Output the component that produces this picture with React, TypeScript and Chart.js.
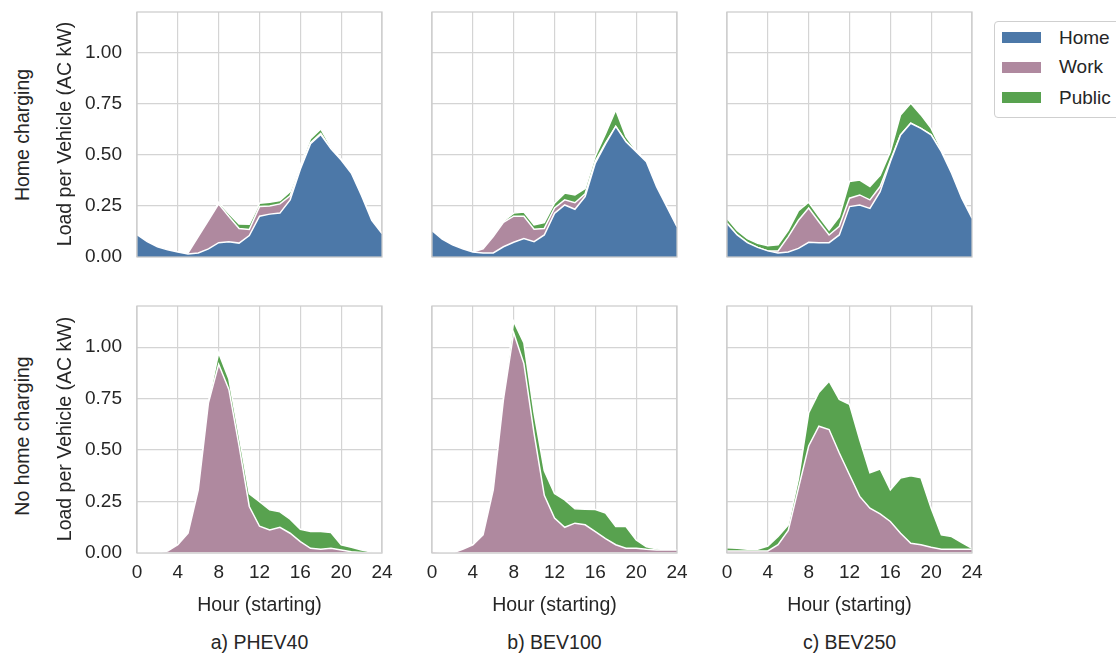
import React, { useEffect, useRef } from "react";
import { Chart, registerables } from "chart.js";

Chart.register(...registerables);

// ---------- data ----------
const HOURS = [0, 1, 2, 3, 4, 5, 6, 7, 8, 9, 10, 11, 12, 13, 14, 15, 16, 17, 18, 19, 20, 21, 22, 23, 24];
const X_TICKS = [0, 4, 8, 12, 16, 20, 24];
const Y_TICKS = [0, 0.25, 0.5, 0.75, 1.0];
const SERIES_NAMES = ["Home", "Work", "Public"];
const ROW_LABELS = ["Home charging", "No home charging"];
const COL_LABELS = ["a) PHEV40", "b) BEV100", "c) BEV250"];
const Y_TITLE = "Load per Vehicle (AC kW)";
const X_TITLE = "Hour (starting)";

// Home charging row
const PHEV40_HOME_home = [0.11, 0.075, 0.05, 0.035, 0.025, 0.015, 0.02, 0.04, 0.07, 0.075, 0.068, 0.105, 0.2, 0.21, 0.215, 0.28, 0.43, 0.555, 0.6, 0.53, 0.475, 0.41, 0.3, 0.18, 0.115];
const PHEV40_HOME_work = [0, 0, 0, 0, 0, 0.005, 0.08, 0.14, 0.19, 0.123, 0.072, 0.03, 0.047, 0.04, 0.045, 0.02, 0.01, 0.005, 0.005, 0, 0, 0, 0, 0, 0];
const PHEV40_HOME_public = [0, 0, 0, 0, 0, 0, 0, 0, 0.008, 0.015, 0.022, 0.025, 0.016, 0.018, 0.016, 0.02, 0.01, 0.02, 0.022, 0.01, 0.005, 0, 0, 0, 0];

const BEV100_HOME_home = [0.13, 0.087, 0.06, 0.04, 0.025, 0.02, 0.02, 0.05, 0.072, 0.09, 0.075, 0.108, 0.214, 0.255, 0.234, 0.296, 0.46, 0.554, 0.64, 0.565, 0.516, 0.467, 0.345, 0.247, 0.149];
const BEV100_HOME_work = [0, 0, 0, 0, 0, 0.02, 0.08, 0.12, 0.128, 0.11, 0.061, 0.032, 0.026, 0.025, 0.032, 0.014, 0.01, 0.005, 0, 0, 0, 0, 0, 0, 0];
const BEV100_HOME_public = [0, 0, 0, 0, 0, 0, 0, 0.005, 0.015, 0.02, 0.021, 0.028, 0.024, 0.033, 0.038, 0.025, 0.025, 0.045, 0.08, 0.025, 0.005, 0, 0, 0, 0];

const BEV250_HOME_home = [0.165, 0.108, 0.07, 0.047, 0.03, 0.02, 0.025, 0.042, 0.072, 0.07, 0.07, 0.108, 0.247, 0.255, 0.238, 0.32, 0.467, 0.598, 0.655, 0.63, 0.598, 0.516, 0.41, 0.288, 0.19];
const BEV250_HOME_work = [0, 0, 0, 0, 0, 0.01, 0.075, 0.138, 0.168, 0.103, 0.038, 0.042, 0.041, 0.049, 0.042, 0.025, 0.005, 0, 0, 0, 0, 0, 0, 0, 0];
const BEV250_HOME_public = [0.025, 0.022, 0.02, 0.02, 0.025, 0.03, 0.03, 0.047, 0.028, 0.025, 0.024, 0.048, 0.082, 0.073, 0.065, 0.055, 0.044, 0.098, 0.098, 0.066, 0.032, 0.01, 0.005, 0.003, 0];

// No home charging row
const PHEV40_NOHOME_home = [0, 0, 0, 0, 0, 0, 0, 0, 0, 0, 0, 0, 0, 0, 0, 0, 0, 0, 0, 0, 0, 0, 0, 0, 0];
const PHEV40_NOHOME_work = [0, 0, 0, 0.01, 0.04, 0.096, 0.307, 0.73, 0.917, 0.795, 0.52, 0.226, 0.13, 0.112, 0.125, 0.096, 0.055, 0.023, 0.018, 0.023, 0.015, 0.006, 0.003, 0, 0];
const PHEV40_NOHOME_public = [0, 0, 0, 0, 0, 0, 0, 0.005, 0.055, 0.05, 0.05, 0.062, 0.12, 0.098, 0.075, 0.068, 0.06, 0.081, 0.086, 0.077, 0.025, 0.022, 0.012, 0.005, 0];

const BEV100_NOHOME_home = [0, 0, 0, 0, 0, 0, 0, 0, 0, 0, 0, 0, 0, 0, 0, 0, 0, 0, 0, 0, 0, 0, 0, 0, 0];
const BEV100_NOHOME_work = [0.01, 0.002, 0, 0.018, 0.04, 0.088, 0.307, 0.746, 1.07, 0.92, 0.58, 0.28, 0.17, 0.125, 0.145, 0.137, 0.104, 0.07, 0.04, 0.023, 0.023, 0.018, 0.015, 0.015, 0.015];
const BEV100_NOHOME_public = [0, 0, 0, 0, 0, 0, 0, 0.005, 0.055, 0.1, 0.1, 0.12, 0.119, 0.133, 0.07, 0.076, 0.107, 0.124, 0.089, 0.106, 0.04, 0.012, 0.006, 0, 0];

const BEV250_NOHOME_home = [0, 0, 0, 0, 0, 0, 0, 0, 0, 0, 0, 0, 0, 0, 0, 0, 0, 0, 0, 0, 0, 0, 0, 0, 0];
const BEV250_NOHOME_work = [0.01, 0.01, 0.01, 0.01, 0.01, 0.04, 0.11, 0.315, 0.52, 0.616, 0.6, 0.486, 0.38, 0.275, 0.218, 0.19, 0.153, 0.096, 0.047, 0.04, 0.028, 0.018, 0.018, 0.018, 0.018];
const BEV250_NOHOME_public = [0.016, 0.013, 0.008, 0.008, 0.024, 0.04, 0.027, 0.045, 0.16, 0.164, 0.235, 0.26, 0.342, 0.275, 0.172, 0.218, 0.154, 0.268, 0.328, 0.326, 0.19, 0.07, 0.062, 0.032, 0.005];

const COLORS = ["#4c78a8", "#af899f", "#58a24f"];
const TEXT = "#262626";
const GRID = "#d4d4d4";
const FONT = '"Liberation Sans", Arial, Helvetica, sans-serif';
const TICK_SIZE = 19;
const TITLE_SIZE = 19.5;

const PANELS = [
  { row: 0, col: 0, series: [PHEV40_HOME_home, PHEV40_HOME_work, PHEV40_HOME_public] },
  { row: 0, col: 1, series: [BEV100_HOME_home, BEV100_HOME_work, BEV100_HOME_public] },
  { row: 0, col: 2, series: [BEV250_HOME_home, BEV250_HOME_work, BEV250_HOME_public] },
  { row: 1, col: 0, series: [PHEV40_NOHOME_home, PHEV40_NOHOME_work, PHEV40_NOHOME_public] },
  { row: 1, col: 1, series: [BEV100_NOHOME_home, BEV100_NOHOME_work, BEV100_NOHOME_public] },
  { row: 1, col: 2, series: [BEV250_NOHOME_home, BEV250_NOHOME_work, BEV250_NOHOME_public] },
];

// ---------- layout ----------
const COL_LEFT = [137, 432, 727];
const AREA_W = 245;
const ROW_TOP = [12, 306];
const AREA_H = [245, 247];
const Y_AXIS_W = 70;
const X_AXIS_H = 45;
const PAD_TOP = 10;
const PAD_RIGHT = 14;

const framePlugin = {
  id: "frame",
  afterDatasetsDraw(chart: any) {
    const { ctx, chartArea } = chart;
    ctx.save();
    ctx.strokeStyle = "#cccccc";
    ctx.lineWidth = 1.25;
    ctx.strokeRect(chartArea.left, chartArea.top, chartArea.right - chartArea.left, chartArea.bottom - chartArea.top);
    ctx.restore();
  },
};

function zeroPad(s: any) {
  s.paddingTop = 0;
  s.paddingBottom = 0;
  s.paddingLeft = 0;
  s.paddingRight = 0;
}

function Panel({ row, col, series }: { row: number; col: number; series: number[][] }) {
  const ref = useRef<HTMLCanvasElement | null>(null);
  const w = Y_AXIS_W + AREA_W + PAD_RIGHT;
  const h = PAD_TOP + AREA_H[row] + X_AXIS_H;
  useEffect(() => {
    if (!ref.current) return;
    const chart = new Chart(ref.current, {
      type: "line",
      data: {
        datasets: series.map((vals, i) => ({
          label: SERIES_NAMES[i],
          data: HOURS.map((hr, k) => ({ x: hr, y: vals[k] })),
          backgroundColor: COLORS[i],
          borderColor: "#ffffff",
          borderWidth: 1.5,
          pointRadius: 0,
          tension: 0,
          fill: i === 0 ? "origin" : "-1",
        })),
      },
      options: {
        responsive: false,
        animation: false,
        events: [],
        layout: { padding: { top: PAD_TOP, right: PAD_RIGHT, left: 0, bottom: 0 } },
        plugins: { legend: { display: false }, tooltip: { enabled: false } },
        scales: {
          x: {
            type: "linear",
            min: 0,
            max: 24,
            afterBuildTicks: (s: any) => {
              s.ticks = X_TICKS.map((v) => ({ value: v }));
            },
            afterFit: (s: any) => {
              s.height = X_AXIS_H;
              zeroPad(s);
            },
            ticks: {
              display: row === 1,
              color: TEXT,
              padding: 8,
              maxRotation: 0,
              autoSkip: false,
              font: { family: FONT, size: TICK_SIZE },
            },
            grid: { color: GRID, lineWidth: 1.2, drawTicks: false },
            border: { display: false },
          },
          y: {
            type: "linear",
            stacked: true,
            min: 0,
            max: 1.2,
            afterBuildTicks: (s: any) => {
              s.ticks = Y_TICKS.map((v) => ({ value: v }));
            },
            afterFit: (s: any) => {
              s.width = Y_AXIS_W;
              zeroPad(s);
            },
            ticks: {
              display: col === 0,
              color: TEXT,
              padding: 15,
              font: { family: FONT, size: TICK_SIZE },
              callback: (v: any) => Number(v).toFixed(2),
            },
            grid: { color: GRID, lineWidth: 1.2, drawTicks: false },
            border: { display: false },
          },
        },
      },
      plugins: [framePlugin],
    } as any);
    return () => chart.destroy();
  }, []);
  return (
    <canvas
      ref={ref}
      width={w}
      height={h}
      style={{
        position: "absolute",
        left: COL_LEFT[col] - Y_AXIS_W,
        top: ROW_TOP[row] - PAD_TOP,
        width: w,
        height: h,
      }}
    />
  );
}

const textBase: React.CSSProperties = {
  position: "absolute",
  whiteSpace: "nowrap",
  color: TEXT,
  fontFamily: FONT,
  fontSize: TITLE_SIZE,
  lineHeight: "22px",
};

function Centered({ x, y, text, rotate }: { x: number; y: number; text: string; rotate?: boolean }) {
  return (
    <div
      style={{
        ...textBase,
        left: x,
        top: y,
        transform: rotate ? "translate(-50%, -50%) rotate(-90deg)" : "translate(-50%, -50%)",
      }}
    >
      {text}
    </div>
  );
}

const LEGEND_Y = [37.5, 67, 97.5];

export default function App() {
  return (
    <div
      style={{
        position: "fixed",
        left: 0,
        top: 0,
        width: 1116,
        height: 662,
        overflow: "hidden",
        background: "#ffffff",
      }}
    >
      {PANELS.map((p) => (
        <Panel key={`${p.row}-${p.col}`} row={p.row} col={p.col} series={p.series} />
      ))}
      <Centered x={22} y={135} text={ROW_LABELS[0]} rotate />
      <Centered x={22} y={436} text={ROW_LABELS[1]} rotate />
      <Centered x={64} y={134} text={Y_TITLE} rotate />
      <Centered x={64} y={429} text={Y_TITLE} rotate />
      {COL_LEFT.map((l, i) => (
        <Centered key={`xt${i}`} x={l + AREA_W / 2} y={604} text={X_TITLE} />
      ))}
      {COL_LEFT.map((l, i) => (
        <Centered key={`ct${i}`} x={l + AREA_W / 2} y={642} text={COL_LABELS[i]} />
      ))}
      <div
        style={{
          position: "absolute",
          left: 994,
          top: 21,
          width: 140,
          height: 95,
          border: "1px solid #cfcfcf",
          borderRadius: 4,
          background: "#fff",
        }}
      />
      {SERIES_NAMES.map((n, i) => (
        <React.Fragment key={n}>
          <div
            style={{
              position: "absolute",
              left: 1002,
              top: LEGEND_Y[i] - 5.5,
              width: 39,
              height: 11,
              background: COLORS[i],
            }}
          />
          <div style={{ ...textBase, fontSize: 19, left: 1059, top: LEGEND_Y[i] - 11 }}>{n}</div>
        </React.Fragment>
      ))}
    </div>
  );
}
